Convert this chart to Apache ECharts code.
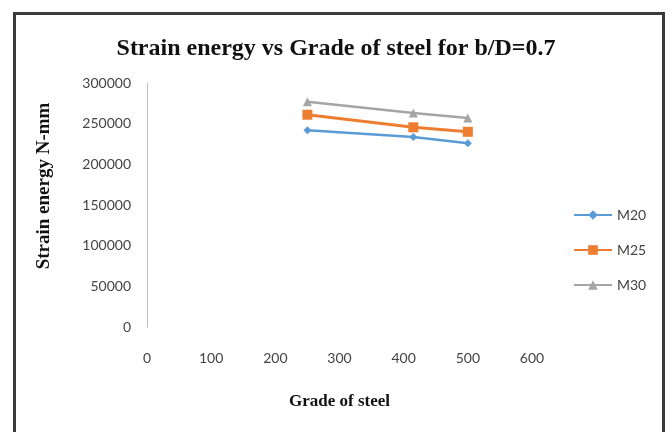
<!DOCTYPE html>
<html>
<head>
<meta charset="utf-8">
<script src="https://cdn.jsdelivr.net/npm/echarts@6/dist/echarts.min.js"></script>
<style>
html,body{margin:0;padding:0;background:#fff;}
#frame{position:absolute;left:13px;top:12px;width:652px;height:430px;border:3px solid #3a3a3a;box-sizing:border-box;}
#chart{position:absolute;left:0;top:0;width:672px;height:432px;}
</style>
</head>
<body>
<div id="chart"></div>
<div id="frame"></div>
<script>
const gradeOfSteel = [250, 415, 500];
const seriesNames = ['M20', 'M25', 'M30'];
const m20 = [242000, 233500, 226000];
const m25 = [261000, 245500, 240000];
const m30 = [277000, 263000, 257000];
const xTicks = [0, 100, 200, 300, 400, 500, 600];
const yTicks = [0, 50000, 100000, 150000, 200000, 250000, 300000];
const yAxisTitle = 'Strain energy N-mm';

const colors = ['#5b9bd5', '#ed7d31', '#a5a5a5'];
const symbols = ['diamond', 'rect', 'triangle'];
const sizes = [8, 10, 9];
const values = [m20, m25, m30];

const chart = echarts.init(document.getElementById('chart'));
chart.setOption({
  animation: false,
  title: {
    text: 'Strain energy vs Grade of steel for b/D=0.7',
    left: 'center',
    top: 32,
    textStyle: {fontFamily: 'Liberation Serif', fontWeight: 'bold', fontSize: 24, color: '#111'}
  },
  graphic: [{
    type: 'text',
    x: 44, y: 186,
    rotation: Math.PI / 2,
    style: {
      text: yAxisTitle, align: 'center', verticalAlign: 'middle',
      font: 'bold 19px "Liberation Serif"', fill: '#111'
    }
  }],
  legend: {
    orient: 'vertical',
    left: 568,
    top: 203,
    itemWidth: 38,
    itemHeight: 12,
    itemGap: 21,
    data: seriesNames,
    textStyle: {fontFamily: 'Lato', fontSize: 14, color: '#444'}
  },
  grid: {left: 147, top: 83, width: 385, height: 244, containLabel: false},
  xAxis: {
    type: 'value', min: xTicks[0], max: xTicks[xTicks.length - 1], interval: 100,
    name: 'Grade of steel', nameLocation: 'middle', nameGap: 66,
    nameTextStyle: {fontFamily: 'Liberation Serif', fontWeight: 'bold', fontSize: 17, color: '#111'},
    axisLine: {show: false}, axisTick: {show: false}, splitLine: {show: false},
    axisLabel: {margin: 24, fontFamily: 'Lato', fontSize: 14, color: '#444', formatter: v => String(v)}
  },
  yAxis: {
    type: 'value', min: yTicks[0], max: yTicks[yTicks.length - 1], interval: 50000,
    axisLine: {show: true, lineStyle: {color: '#bfbfbf', width: 1}}, axisTick: {show: false}, splitLine: {show: false},
    axisLabel: {margin: 16, fontFamily: 'Lato', fontSize: 14, color: '#444', formatter: v => String(v)}
  },
  series: seriesNames.map((n, i) => ({
    name: n,
    type: 'line',
    data: gradeOfSteel.map((x, j) => [x, values[i][j]]),
    symbol: symbols[i],
    symbolSize: sizes[i],
    lineStyle: {color: colors[i], width: i === 1 ? 3 : 2.5},
    itemStyle: {color: colors[i]}
  }))
});
</script>
</body>
</html>
